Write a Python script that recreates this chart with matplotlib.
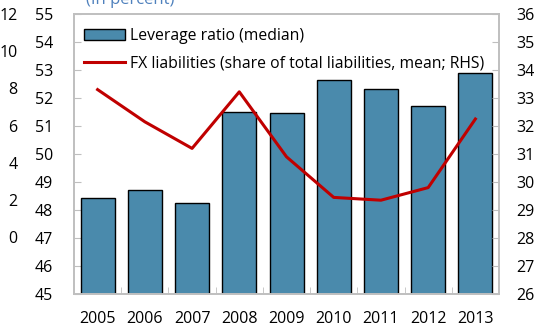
import matplotlib.pyplot as plt
from matplotlib.lines import Line2D
from matplotlib.patches import Patch

plt.rcParams['font.family'] = ['Open Sans', 'DejaVu Sans']

years = ['2005', '2006', '2007', '2008', '2009', '2010', '2011', '2012', '2013']
leverage = [48.43, 48.71, 48.25, 51.5, 51.45, 52.64, 52.32, 51.73, 52.88]
fx_share = [33.3, 32.15, 31.2, 33.22, 30.9, 29.45, 29.35, 29.8, 32.25]
neighbour_ticks = ['12', '10', '8', '6', '4', '2', '0']

bar_color = '#4A8AAC'
line_color = '#C00000'
spine_color = '#BFBFBF'

fig = plt.figure(figsize=(5.38, 3.29), dpi=100)
ax = fig.add_axes([74 / 538, 1 - 294 / 329, 425 / 538, 280 / 329])
ax2 = ax.twinx()

x = range(len(years))
ax.bar(x, leverage, width=0.72, color=bar_color, edgecolor='black', linewidth=1.0,
       zorder=2)
ax.set_ylim(45, 55)
ax.set_xlim(-0.5, len(years) - 0.5)
ax.set_yticks(range(45, 56))
ax.set_xticks(x)
ax.set_xticklabels(years)
ax.set_xticks([i + 0.5 for i in range(len(years) - 1)], minor=True)

ax2.plot(x, fx_share, color=line_color, linewidth=2.2, zorder=3)
ax2.set_ylim(26, 36)
ax2.set_yticks(range(26, 37))

for a in (ax, ax2):
    for s in a.spines.values():
        s.set_color(spine_color)
        s.set_linewidth(1.2)
    a.tick_params(axis='y', direction='in', length=5, color=spine_color,
                  labelsize=11.5)
ax.tick_params(axis='x', which='major', length=0, labelsize=11.5, pad=12)
ax.tick_params(axis='x', which='minor', direction='in', length=5, color=spine_color)
ax.tick_params(axis='y', pad=15)
ax2.tick_params(axis='y', pad=12.5)

handles = [Patch(facecolor=bar_color, edgecolor='black', linewidth=1.0),
           Line2D([0], [0], color=line_color, linewidth=2.2)]
labels = ['Leverage ratio (median)',
          'FX liabilities (share of total liabilities, mean; RHS)']
ax2.legend(handles, labels, loc='upper left', bbox_to_anchor=(0.0, 0.985),
           frameon=False, fontsize=11.3, handlelength=2.6, handletextpad=0.35,
           borderaxespad=0.25, labelspacing=0.72)

# title of this panel and tick labels of the panel on the left, both cut off
fig.text(130 / 538, 1 - 0 / 329, '(In percent)', color='#4F81BD', fontsize=12,
         ha='center', va='center')
for i, t in enumerate(neighbour_ticks):
    fig.text(17.5 / 538, 1 - (16 + i * 37.2) / 329, t, fontsize=11.5,
             ha='right', va='center')

fig.savefig('out.png', dpi=100)
